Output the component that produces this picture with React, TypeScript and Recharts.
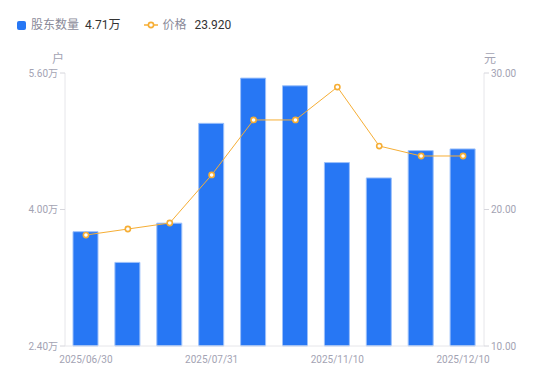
import * as React from 'react';
import { ComposedChart, Bar, Line, XAxis, YAxis } from 'recharts';

const dates = [
  '2025/06/30', '2025/07/10', '2025/07/20', '2025/07/31', '2025/08/20',
  '2025/09/30', '2025/11/10', '2025/11/20', '2025/11/28', '2025/12/10',
];
// 股东数量（万户）
const holders = [3.74, 3.38, 3.84, 5.01, 5.54, 5.45, 4.55, 4.37, 4.69, 4.71];
// 价格（元）
const prices = [18.13, 18.57, 19.01, 22.53, 26.56, 26.56, 28.97, 24.65, 23.92, 23.92];
const leftTicks = [2.4, 4.0, 5.6];
const rightTicks = [10, 20, 30];

const data = dates.map((d, i) => ({ date: d, holders: holders[i], price: prices[i] }));

const FONT = "Roboto, 'Noto Sans CJK SC', sans-serif";
const BLUE = '#2777f4';
const ORANGE = '#f6ae35';
const TICK = { fill: '#a3a3b3', fontSize: 10, fontFamily: FONT };

export default function App(): React.JSX.Element {
  const last = data[data.length - 1];
  return (
    <div style={{ position: 'fixed', left: 0, top: 0, width: 550, height: 381, background: '#fff', fontFamily: FONT }}>
      {/* 图例 */}
      <div style={{ position: 'absolute', left: 17, top: 16, display: 'flex', alignItems: 'center', fontSize: 12, lineHeight: '18px' }}>
        <span style={{ width: 9, height: 9, background: BLUE, borderRadius: 2, display: 'inline-block' }} />
        <span style={{ color: '#8a8a99', marginLeft: 5 }}>股东数量</span>
        <span style={{ color: '#333', marginLeft: 6 }}>{last.holders.toFixed(2)}万</span>
        <svg width={14} height={10} style={{ marginLeft: 24 }}>
          <line x1={0} y1={5} x2={14} y2={5} stroke={ORANGE} strokeWidth={1.5} />
          <circle cx={7} cy={5} r={2.6} fill="#fff" stroke={ORANGE} strokeWidth={1.6} />
        </svg>
        <span style={{ color: '#8a8a99', marginLeft: 4 }}>价格</span>
        <span style={{ color: '#333', marginLeft: 8 }}>{last.price.toFixed(3)}</span>
      </div>
      <div style={{ position: 'absolute', left: 52, top: 49, fontSize: 12, color: '#a3a3b3' }}>户</div>
      <div style={{ position: 'absolute', left: 484, top: 49, fontSize: 12, color: '#a3a3b3' }}>元</div>
      <ComposedChart
        width={550}
        height={381}
        data={data}
        margin={{ top: 73, right: 16, bottom: 15, left: 15 }}
        barCategoryGap={0}
      >
        <XAxis
          dataKey="date"
          interval={2}
          tickLine={false}
          axisLine={{ stroke: '#e6e6ea' }}
          tick={TICK}
          height={20}
          tickMargin={4}
        />
        <YAxis
          yAxisId="left"
          width={50}
          domain={[2.4, 5.6]}
          ticks={leftTicks}
          tickFormatter={(v: number) => `${v.toFixed(2)}万`}
          axisLine={{ stroke: '#e6e6ea' }}
          tickLine={{ stroke: '#d6d6dc' }}
          tickSize={5}
          tick={TICK}
        />
        <YAxis
          yAxisId="right"
          orientation="right"
          width={50}
          domain={[10, 30]}
          ticks={rightTicks}
          tickFormatter={(v: number) => v.toFixed(2)}
          axisLine={{ stroke: '#e6e6ea' }}
          tickLine={{ stroke: '#d6d6dc' }}
          tickSize={5}
          tick={TICK}
        />
        <Bar
          yAxisId="left"
          dataKey="holders"
          fill={BLUE}
          stroke="#9cc0fa"
          strokeWidth={1}
          barSize={25}
          isAnimationActive={false}
        />
        <Line
          yAxisId="right"
          dataKey="price"
          stroke={ORANGE}
          strokeWidth={1}
          dot={{ r: 2.6, fill: '#fff', stroke: ORANGE, strokeWidth: 1.6 }}
          activeDot={false}
          isAnimationActive={false}
        />
      </ComposedChart>
    </div>
  );
}
